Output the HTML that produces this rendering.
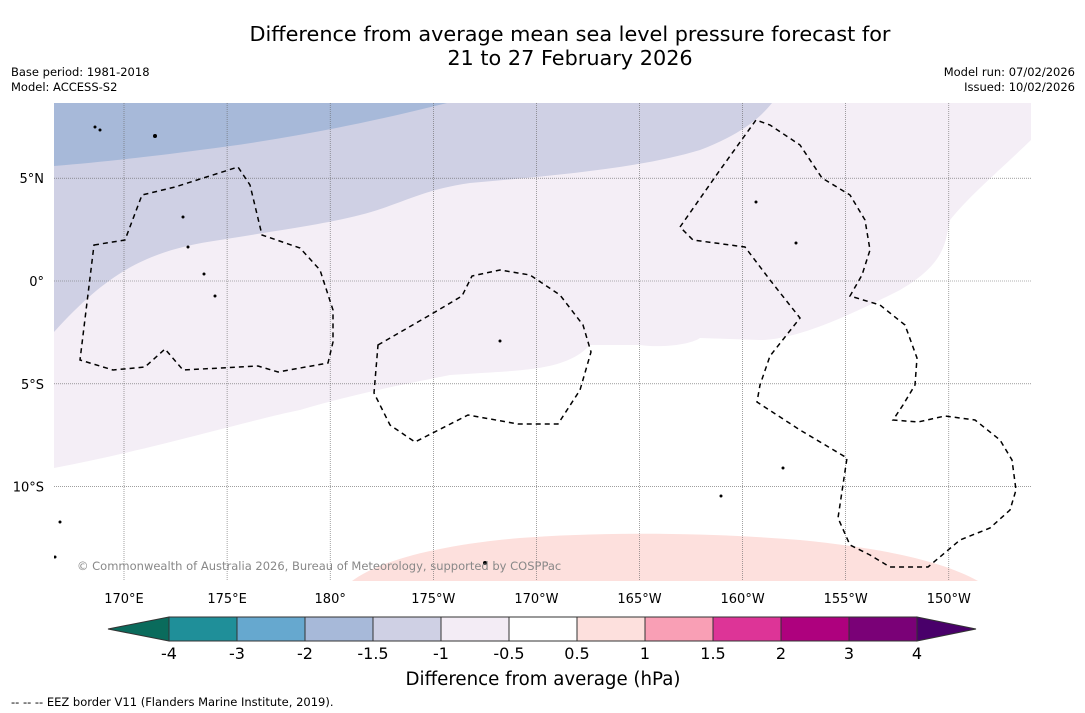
<!DOCTYPE html>
<html><head><meta charset="utf-8">
<style>
body{margin:0;background:#fff;font-family:"DejaVu Sans","Liberation Sans",sans-serif;}
#wrap{position:relative;width:1085px;height:713px;overflow:hidden;background:#fff}
.t{position:absolute;white-space:nowrap;color:#000}
</style></head>
<body>
<div id="wrap">
<div class="t" style="left:0;width:1140px;text-align:center;top:22px;font-size:20.8px;line-height:24px">Difference from average mean sea level pressure forecast for<br>21 to 27 February 2026</div>
<div class="t" style="left:11px;top:65px;font-size:11.5px;line-height:15px">Base period: 1981-2018<br>Model: ACCESS-S2</div>
<div class="t" style="right:10px;top:65px;font-size:11.5px;line-height:15px;text-align:right">Model run: 07/02/2026<br>Issued: 10/02/2026</div>
<svg width="1085" height="713" style="position:absolute;left:0;top:0" id="svg">
<defs><clipPath id="mc"><rect x="54" y="103" width="977" height="478"/></clipPath></defs>
<g clip-path="url(#mc)">
<rect x="54" y="103" width="977" height="478" fill="#fff"/>
<path fill="#f4eef6" d="M54,103 L1031,103 L1031,140 C1000,170 970,195 950,220 C945,240 948,262 900,290 C860,310 800,340 760,340 L700,338 C690,345 660,348 640,345 L590,345 C565,372 520,370 450,375 C400,385 350,395 300,410 C250,420 150,450 54,468 Z"/>
<path fill="#cfd0e4" d="M54,103 L772,103 C760,118 740,135 700,150 C640,168 560,175 470,183 C420,190 400,205 360,215 C320,225 280,230 220,240 C150,250 110,270 54,332 Z"/>
<path fill="#a7b9d9" d="M54,103 L447,103 C360,125 280,140 200,150 C140,158 100,162 54,166 Z"/>
<path fill="#fde0dd" d="M352,581 C380,560 440,545 520,538 C600,532 700,532 800,540 C880,548 940,560 978,581 Z"/>
<g id="grid" stroke="#666" stroke-width="0.6" stroke-dasharray="1,1"></g>
<g fill="none" stroke="#000" stroke-width="1.5" stroke-dasharray="5,4">
<path d="M94,245 L125,240 L142,195 L175,187 L238,167 L250,185 L262,235 L300,248 L320,270 L333,310 L333,342 L328,363 L278,372 L258,366 L183,370 L165,349 L145,367 L113,370 L80,360 Z"/>
<path d="M378,345 L430,315 L462,296 L472,276 L500,270 L530,275 L560,295 L583,325 L591,352 L580,390 L558,424 L518,424 L468,415 L415,442 L390,425 L374,393 Z"/>
<path d="M680,227 L720,170 L756,120 L770,125 L800,145 L822,178 L850,195 L865,220 L870,250 L862,275 L850,296 L880,305 L905,325 L917,358 L915,385 L903,405 L893,420 L918,422 L945,416 L975,420 L1000,440 L1012,460 L1016,490 L1010,510 L990,528 L960,540 L928,567 L890,567 L870,555 L850,545 L838,518 L847,458 L800,430 L757,402 L760,385 L770,356 L800,318 L770,280 L745,247 L693,240 Z"/>
</g>
<g fill="#000">
<circle cx="95" cy="127" r="1.5"/><circle cx="100" cy="130" r="1.5"/><circle cx="155" cy="136" r="2"/><circle cx="183" cy="217" r="1.5"/><circle cx="188" cy="247" r="1.5"/><circle cx="204" cy="274" r="1.5"/><circle cx="215" cy="296" r="1.5"/><circle cx="500" cy="341" r="1.5"/><circle cx="756" cy="202" r="1.5"/><circle cx="796" cy="243" r="1.5"/><circle cx="783" cy="468" r="1.5"/><circle cx="721" cy="496" r="1.5"/><circle cx="485" cy="563" r="2"/><circle cx="60" cy="522" r="1.5"/><circle cx="55" cy="557" r="1.5"/>
</g>
</g>
<text x="77" y="570" font-size="11.5" fill="#888" font-family="DejaVu Sans, sans-serif">© Commonwealth of Australia 2026, Bureau of Meteorology, supported by COSPPac</text>
<g id="lonlab" font-size="13" text-anchor="middle" font-family="DejaVu Sans, sans-serif"></g>
<g id="latlab" font-size="13" text-anchor="end" font-family="DejaVu Sans, sans-serif"></g>
<g id="cbar"></g>
<text x="543" y="685" font-size="18.2" text-anchor="middle" font-family="DejaVu Sans, sans-serif">Difference from average (hPa)</text>
<text x="11" y="706" font-size="11.5" font-family="DejaVu Sans, sans-serif">--  --  -- EEZ border V11 (Flanders Marine Institute, 2019).</text>
</svg>
</div>
<script>
const lonLabels=["170°E","175°E","180°","175°W","170°W","165°W","160°W","155°W","150°W"];
const lonValues=[170,175,180,185,190,195,200,205,210];
const latLabels=["5°N","0°","5°S","10°S"];
const latValues=[5,0,-5,-10];
const cbLevels=["-4","-3","-2","-1.5","-1","-0.5","0.5","1","1.5","2","3","4"];
const cbColors=["#1f8f99","#66a8cf","#a7b9d9","#cfd0e4","#f3ecf5","#ffffff","#fde0dd","#f99fb5","#dd3497","#ae017e","#7a0177"];
const NS="http://www.w3.org/2000/svg";
const xOf=l=>124+(l-170)*103.1/5;
const yOf=la=>281-la*102.8/5;
const grid=document.getElementById('grid');
lonValues.forEach((v,i)=>{
 const l=document.createElementNS(NS,'line');
 l.setAttribute('x1',xOf(v));l.setAttribute('x2',xOf(v));l.setAttribute('y1',103);l.setAttribute('y2',581);
 
 
 grid.appendChild(l);
 const t=document.createElementNS(NS,'text');
 t.setAttribute('x',xOf(v));t.setAttribute('y',603);t.textContent=lonLabels[i];
 
 
 document.getElementById('lonlab').appendChild(t);
});
latValues.forEach((v,i)=>{
 const l=document.createElementNS(NS,'line');
 l.setAttribute('x1',54);l.setAttribute('x2',1031);l.setAttribute('y1',yOf(v));l.setAttribute('y2',yOf(v));
 
 
 grid.appendChild(l);
 const t=document.createElementNS(NS,'text');
 t.setAttribute('x',44);t.setAttribute('y',yOf(v)+5);t.textContent=latLabels[i];
 
 
 document.getElementById('latlab').appendChild(t);
});
const cb=document.getElementById('cbar');
const cx0=169,cw=68,cy=617,ch=24;
const tipL=document.createElementNS(NS,'polygon');
tipL.setAttribute('points',`${cx0},${cy} ${cx0},${cy+ch} 108,${cy+ch/2}`);
tipL.setAttribute('fill','#0a6b5c');tipL.setAttribute('stroke','#333');


cb.appendChild(tipL);
const xe=cx0+cw*cbColors.length;
const tipR=document.createElementNS(NS,'polygon');
tipR.setAttribute('points',`${xe},${cy} ${xe},${cy+ch} 976,${cy+ch/2}`);
tipR.setAttribute('fill','#49006a');tipR.setAttribute('stroke','#333');


cb.appendChild(tipR);
cbColors.forEach((c,i)=>{
 const r=document.createElementNS(NS,'rect');
 r.setAttribute('x',cx0+i*cw);r.setAttribute('y',cy);r.setAttribute('width',cw);r.setAttribute('height',ch);
 r.setAttribute('fill',c);r.setAttribute('stroke','#333');r.setAttribute('stroke-width','1');
 
 
 cb.appendChild(r);
});
cbLevels.forEach((s,i)=>{
 const t=document.createElementNS(NS,'text');
 t.setAttribute('x',cx0+i*cw);t.setAttribute('y',659);t.setAttribute('font-size','16');
 t.setAttribute('text-anchor','middle');t.setAttribute('font-family','DejaVu Sans, sans-serif');
 t.textContent=s;
 
 
 cb.appendChild(t);
});
</script>
</body></html>
